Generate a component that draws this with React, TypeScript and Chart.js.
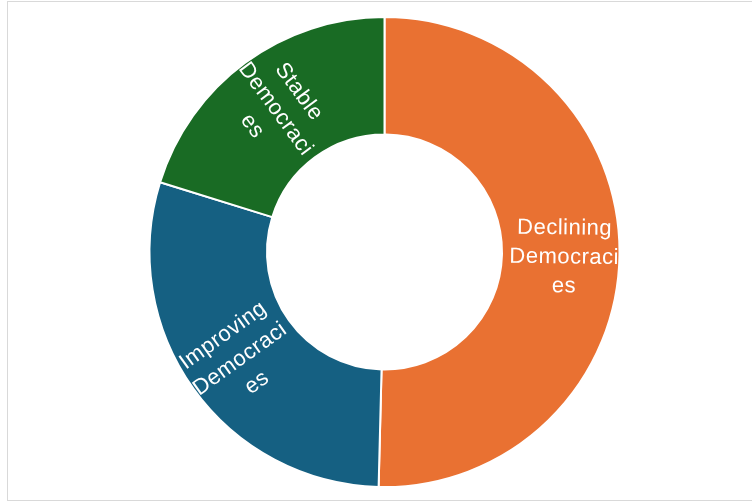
import React, { useEffect, useRef } from "react";
import { Chart, registerables } from "chart.js";

Chart.register(...registerables);

const categories = ["Declining Democracies", "Improving Democracies", "Stable Democracies"];
const labelLines = [
  ["Declining", "Democraci", "es"],
  ["Improving", "Democraci", "es"],
  ["Stable", "Democraci", "es"],
];
const shares = [50.4, 29.4, 20.2];
const colors = ["#E97132", "#156082", "#196B24"];

const rotatedLabels = {
  id: "rotatedLabels",
  afterDatasetsDraw(chart: any) {
    const ctx = chart.ctx;
    const meta = chart.getDatasetMeta(0);
    ctx.save();
    ctx.font = '22px "Liberation Sans", Arial, sans-serif';
    (ctx as any).letterSpacing = "0.5px";
    ctx.fillStyle = "#FFFFFF";
    ctx.textAlign = "center";
    ctx.textBaseline = "middle";
    meta.data.forEach((arc: any, i: number) => {
      const p = arc.getProps(["x", "y", "startAngle", "endAngle", "innerRadius", "outerRadius"], true);
      const mid = (p.startAngle + p.endAngle) / 2;
      const r = p.innerRadius + (p.outerRadius - p.innerRadius) * 0.53;
      const cx = p.x + r * Math.cos(mid);
      const cy = p.y + r * Math.sin(mid);
      let rot = Math.atan2(Math.sin(mid), Math.cos(mid));
      if (rot > Math.PI / 2) rot -= Math.PI;
      if (rot <= -Math.PI / 2) rot += Math.PI;
      ctx.save();
      ctx.translate(cx, cy);
      ctx.rotate(rot);
      const lines = labelLines[i];
      const lh = 29;
      lines.forEach((ln: string, k: number) => {
        ctx.fillText(ln, 0, (k - (lines.length - 1) / 2) * lh + 3);
      });
      ctx.restore();
    });
    ctx.restore();
  },
};

export default function App() {
  const ref = useRef<HTMLCanvasElement | null>(null);
  useEffect(() => {
    if (!ref.current) return;
    const chart = new Chart(ref.current, {
      type: "doughnut",
      data: {
        labels: categories,
        datasets: [
          {
            data: shares,
            backgroundColor: colors,
            borderColor: "#FFFFFF",
            borderWidth: 2,
          },
        ],
      },
      options: {
        responsive: false,
        animation: false,
        cutout: "50%",
        layout: { padding: { top: 16, bottom: 14, left: 17, right: 0 } },
        plugins: {
          legend: { display: false },
          tooltip: { enabled: false },
        },
      },
      plugins: [rotatedLabels],
    });
    return () => chart.destroy();
  }, []);
  return (
    <div style={{ position: "fixed", left: 0, top: 0, width: 752, height: 502, overflow: "hidden", background: "#fff" }}>
      <div
        style={{
          position: "absolute",
          left: 7,
          top: 1,
          width: 800,
          height: 500,
          boxSizing: "border-box",
          border: "1px solid #D9D9D9",
        }}
      />
      <canvas ref={ref} width={752} height={502} style={{ position: "absolute", left: 0, top: 0 }} />
    </div>
  );
}
